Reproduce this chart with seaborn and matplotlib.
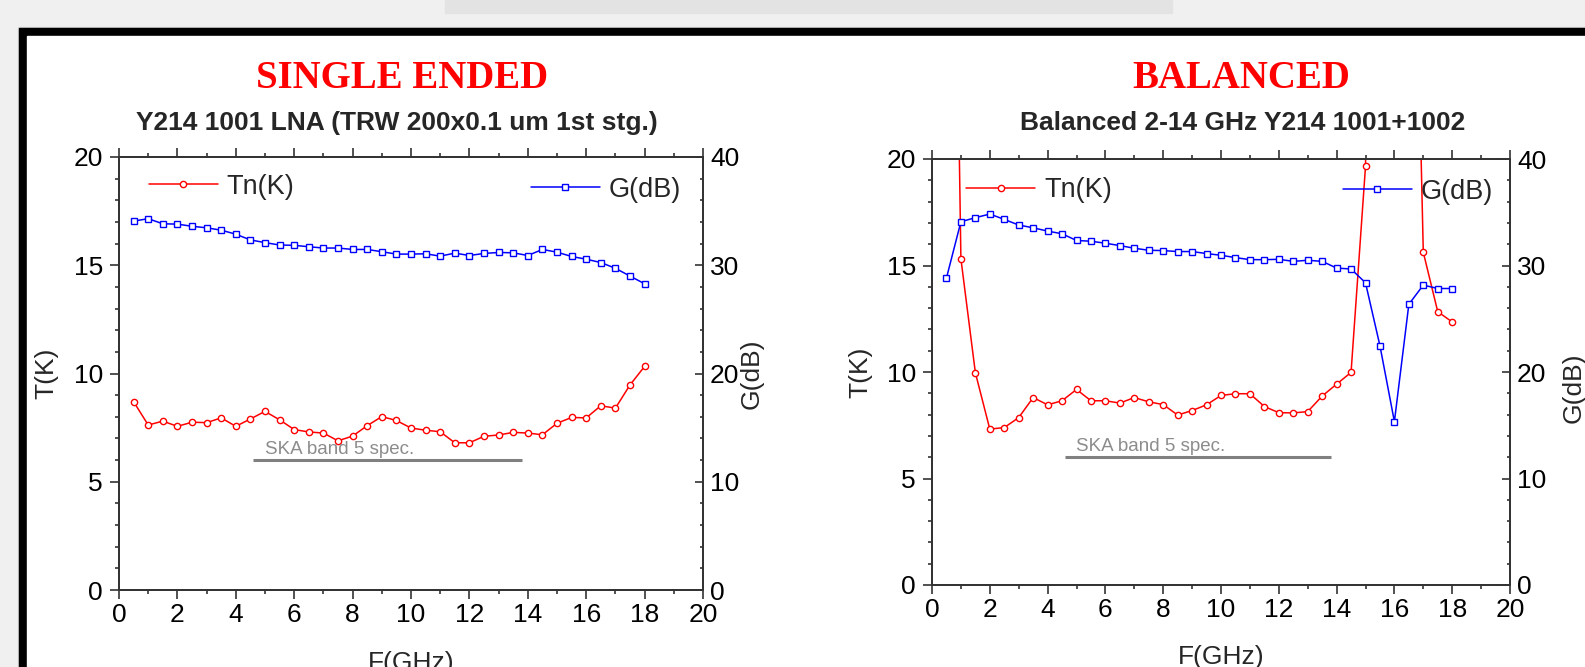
import matplotlib
matplotlib.use("Agg")
import numpy as np
import pandas as pd
import matplotlib.pyplot as plt
from matplotlib.patches import Rectangle
from matplotlib.ticker import MultipleLocator
import seaborn as sns

# frequency grid (GHz)
freq = [0.5, 1.0, 1.5, 2.0, 2.5, 3.0, 3.5, 4.0, 4.5, 5.0, 5.5, 6.0,
        6.5, 7.0, 7.5, 8.0, 8.5, 9.0, 9.5, 10.0, 10.5, 11.0, 11.5, 12.0,
        12.5, 13.0, 13.5, 14.0, 14.5, 15.0, 15.5, 16.0, 16.5, 17.0, 17.5, 18.0]

# single ended LNA
se_tn = [8.70, 7.62, 7.80, 7.56, 7.75, 7.73, 7.95, 7.56, 7.90, 8.25, 7.86, 7.41,
         7.30, 7.25, 6.89, 7.11, 7.59, 8.01, 7.83, 7.48, 7.38, 7.31, 6.80, 6.80,
         7.10, 7.16, 7.28, 7.25, 7.17, 7.70, 7.97, 7.95, 8.51, 8.40, 9.47, 10.33]
se_gain = [34.08, 34.30, 33.83, 33.80, 33.60, 33.46, 33.24, 32.87, 32.34, 32.09, 31.87, 31.84,
           31.71, 31.59, 31.59, 31.46, 31.46, 31.25, 31.03, 31.03, 31.06, 30.84, 31.12, 30.90,
           31.09, 31.18, 31.15, 30.90, 31.46, 31.21, 30.81, 30.56, 30.25, 29.72, 29.00, 28.29]

# balanced amp (some Tn points are far off scale)
bal_tn = [60.0, 15.32, 9.97, 7.32, 7.39, 7.86, 8.80, 8.46, 8.65, 9.18, 8.65, 8.65,
          8.54, 8.80, 8.60, 8.47, 7.98, 8.19, 8.46, 8.90, 8.98, 8.98, 8.38, 8.09,
          8.08, 8.14, 8.87, 9.43, 9.98, 19.65, 60.0, 80.0, 45.0, 15.62, 12.83, 12.35]
bal_gain = [28.82, 34.11, 34.49, 34.83, 34.33, 33.80, 33.54, 33.23, 32.98, 32.35, 32.28, 32.09,
            31.87, 31.62, 31.43, 31.40, 31.31, 31.31, 31.12, 30.96, 30.74, 30.55, 30.55, 30.58,
            30.39, 30.49, 30.39, 29.76, 29.67, 28.38, 22.46, 15.34, 26.36, 28.16, 27.84, 27.84]

ska_band = [4.6, 13.8]
ska_temp = [6, 6]

sns.set_style("ticks")
plt.rcParams['font.family'] = ['Liberation Sans', 'DejaVu Sans']

W, H = 1585, 667
fig = plt.figure(figsize=(W / 100, H / 100), dpi=100)
fig.patch.set_facecolor('#f0f0f0')

# slide frame
fig.patches.append(Rectangle((445, H - 13), 727, 13, transform=None, color='#e3e3e3', zorder=-12))
fig.patches.append(Rectangle((18, -10), 1700, H - 27 + 10, transform=None, color='#d8d8d8', zorder=-11))
fig.patches.append(Rectangle((19, -10), 1700, H - 28 + 10, transform=None, color='black', zorder=-10))
fig.patches.append(Rectangle((27, -10), 1700, H - 36 + 10, transform=None, color='white', zorder=-9))

axcol = '#333333'
fs = 19


def make_panel(rect, tn, gain, leg_red, leg_blue, gl_x, gl_y):
    ax = fig.add_axes(rect)
    ax2 = ax.twinx()
    df = pd.DataFrame({'F': freq, 'Tn': tn, 'G': gain})
    sns.lineplot(data=df, x='F', y='Tn', ax=ax, color='red', lw=1.1, marker='o',
                 ms=4.5, mfc='white', mec='red', mew=1.0)
    sns.lineplot(data=df, x='F', y='G', ax=ax2, color='blue', lw=1.1, marker='s',
                 ms=4.5, mfc='white', mec='blue', mew=1.0)
    ax.plot(ska_band, ska_temp, color='#808080', lw=2.2, solid_capstyle='butt')
    ax.text(5.0, 6.12, 'SKA band 5 spec.', color='#8c8c8c', fontsize=13.5,
            ha='left', va='bottom')

    ax.set_xlim(0, 20)
    ax.set_ylim(0, 20)
    ax2.set_ylim(0, 40)
    ax.xaxis.set_major_locator(MultipleLocator(2))
    ax.xaxis.set_minor_locator(MultipleLocator(1))
    ax.yaxis.set_major_locator(MultipleLocator(5))
    ax.yaxis.set_minor_locator(MultipleLocator(1))
    ax2.yaxis.set_major_locator(MultipleLocator(10))
    ax2.yaxis.set_minor_locator(MultipleLocator(2))

    ax.tick_params(axis='x', which='both', direction='out', top=True, bottom=True,
                   labelsize=fs, colors=axcol, labelcolor='black', pad=3, width=1.2)
    ax.tick_params(axis='y', which='both', direction='out', left=True, right=False,
                   labelsize=fs, colors=axcol, labelcolor='black', pad=5, width=1.2)
    ax.tick_params(which='major', length=6.5)
    ax.tick_params(which='minor', length=3)
    ax2.tick_params(axis='y', which='both', direction='in', right=True,
                    labelsize=fs, colors=axcol, labelcolor='black', pad=5, width=1.2)
    ax2.tick_params(axis='y', which='major', length=5.5)
    ax2.tick_params(axis='y', which='minor', length=2.5)
    for a in (ax, ax2):
        for sp in a.spines.values():
            sp.set_color(axcol)
            sp.set_linewidth(1.3)
            sp.set_visible(True)

    ax.set_xlabel('F(GHz)', fontsize=fs)
    ax.set_ylabel('T(K)', fontsize=fs)
    ax2.set_ylabel('G(dB)', fontsize=fs)
    ax.xaxis.set_label_coords(0.5, -0.14)
    ax.yaxis.set_label_coords(-0.104, 0.5)
    ax2.yaxis.set_label_coords(gl_x, gl_y)

    lk = dict(frameon=False, borderpad=0, borderaxespad=0, handlelength=2.55,
              handletextpad=0.33, fontsize=19.5, loc='center left')
    ax.legend(handles=[ax.lines[0]], labels=['Tn(K)'], bbox_to_anchor=leg_red, **lk)
    ax2.legend(handles=[ax2.lines[0]], labels=['G(dB)'], bbox_to_anchor=leg_blue, **lk)
    return ax, ax2


make_panel([119 / W, 77 / H, 584 / W, 433 / H], se_tn, se_gain,
           (0.051, 0.931), (0.705, 0.924), 1.062, 0.5)
make_panel([932 / W, 82 / H, 578 / W, 426 / H], bal_tn, bal_gain,
           (0.059, 0.927), (0.711, 0.923), 1.09, 0.462)

fig.text(402 / W, 1 - 79 / H, 'SINGLE ENDED', color='red', fontsize=28,
         family='Liberation Serif', fontweight='bold', ha='center', va='center')
fig.text(1241 / W, 1 - 79 / H, 'BALANCED', color='red', fontsize=28,
         family='Liberation Serif', fontweight='bold', ha='center', va='center')
fig.text(397 / W, 1 - 123 / H, 'Y214 1001 LNA (TRW 200x0.1 um 1st stg.)',
         fontsize=19, fontweight='bold', ha='center', va='center')
fig.text(1243 / W, 1 - 123 / H, 'Balanced 2-14 GHz Y214 1001+1002',
         fontsize=19, fontweight='bold', ha='center', va='center')

fig.savefig('out.png', dpi=100, facecolor=fig.get_facecolor())
